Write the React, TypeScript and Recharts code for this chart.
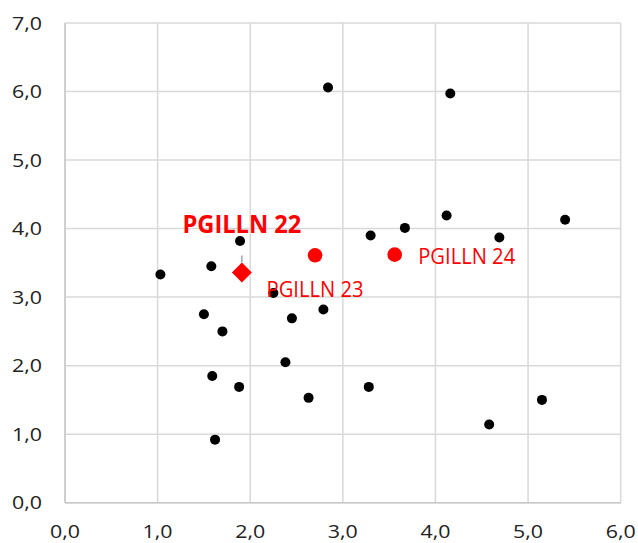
import React from 'react';
import { ScatterChart, Scatter, XAxis, YAxis, CartesianGrid } from 'recharts';

// ---- data ----
const xTicks = [0, 1, 2, 3, 4, 5, 6];
const yTicks = [0, 1, 2, 3, 4, 5, 6, 7];

const sampleX = [2.84, 4.16, 4.12, 3.67, 3.3, 4.69, 5.4, 1.89, 1.03, 1.58, 2.25, 1.5, 1.7, 2.45, 2.79, 2.38, 1.59, 1.88, 2.63, 3.28, 1.62, 4.58, 5.15];
const sampleY = [6.06, 5.97, 4.19, 4.01, 3.9, 3.87, 4.13, 3.82, 3.33, 3.45, 3.06, 2.75, 2.5, 2.69, 2.82, 2.05, 1.85, 1.69, 1.53, 1.69, 0.92, 1.14, 1.5];

const highlightNames = ['PGILLN 22', 'PGILLN 23', 'PGILLN 24'];
const highlightX = [1.91, 2.7, 3.56];
const highlightY = [3.36, 3.61, 3.62];

const samples = sampleX.map((x, i) => ({ x, y: sampleY[i] }));
const highlights = highlightNames.map((name, i) => ({ name, x: highlightX[i], y: highlightY[i] }));
const diamondData = highlights.slice(0, 1);
const circleData = highlights.slice(1);

// ---- styles ----
const FONT = '"Open Sans", "Noto Sans", sans-serif';
const RED = '#ff0000';
const TICK_COLOR = '#222222';

const labelStyle: Record<string, any> = {
  'PGILLN 22': { dx: 0, dy: -39, anchor: 'middle', size: 25, weight: 700, len: 119, leader: true },
  'PGILLN 23': { dx: 0, dy: 41.5, anchor: 'middle', size: 21, weight: 400, len: 97 },
  'PGILLN 24': { dx: 23.5, dy: 9, anchor: 'start', size: 21, weight: 400, len: 97 },
};

const fmt = (v: number) => v.toFixed(1).replace('.', ',');

const YTick = (props: any) => {
  const { x, y, payload } = props;
  return (
    <text x={x} y={y + 6.5} textAnchor="end" fontSize={18} fontFamily={FONT} fill={TICK_COLOR}
      textLength={30} lengthAdjust="spacingAndGlyphs">
      {fmt(payload.value)}
    </text>
  );
};

const XTick = (props: any) => {
  const { x, y, payload } = props;
  return (
    <text x={x} y={y + 35.5} textAnchor="middle" fontSize={18} fontFamily={FONT} fill={TICK_COLOR}
      textLength={30} lengthAdjust="spacingAndGlyphs">
      {fmt(payload.value)}
    </text>
  );
};

const PointLabel = ({ cx, cy, name }: { cx: number; cy: number; name: string }) => {
  const s = labelStyle[name];
  return (
    <g>
      {s.leader ? <line x1={cx} x2={cx} y1={cy - 10} y2={cy - 17} stroke="#a6a6a6" strokeWidth={1.5} /> : null}
      <text x={cx + s.dx} y={cy + s.dy} textAnchor={s.anchor} fontSize={s.size} fontWeight={s.weight}
        fontFamily={FONT} fill={RED} textLength={s.len} lengthAdjust="spacingAndGlyphs">
        {name}
      </text>
    </g>
  );
};

const DotShape = (props: any) => <circle cx={props.cx} cy={props.cy} r={5} fill="#000" />;

const DiamondShape = (props: any) => {
  const { cx, cy, payload } = props;
  const r = 10;
  return (
    <g>
      <polygon points={`${cx},${cy - r} ${cx + r},${cy} ${cx},${cy + r} ${cx - r},${cy}`} fill={RED} />
      <PointLabel cx={cx} cy={cy} name={payload.name} />
    </g>
  );
};

const RedCircleShape = (props: any) => {
  const { cx, cy, payload } = props;
  return (
    <g>
      <circle cx={cx} cy={cy} r={7.3} fill={RED} />
      <PointLabel cx={cx} cy={cy} name={payload.name} />
    </g>
  );
};

export default function App() {
  return (
    <div style={{ position: 'absolute', left: 0, top: 0, width: 638, height: 543, background: '#fff' }}>
      <ScatterChart width={638} height={543} margin={{ top: 23, right: 17.3, bottom: 0, left: 0 }}>
        <CartesianGrid stroke="#d9d9d9" strokeWidth={1.5} />
        <XAxis type="number" dataKey="x" domain={[0, 6]} ticks={xTicks} height={40.3}
          axisLine={{ stroke: '#c8c8c8', strokeWidth: 1.5 }} tickLine={false} tickSize={0} tickMargin={0}
          tick={<XTick />} interval={0} allowDataOverflow />
        <YAxis type="number" dataKey="y" domain={[0, 7]} ticks={yTicks} width={65}
          axisLine={{ stroke: '#c8c8c8', strokeWidth: 1.5 }} tickLine={false} tickSize={0} tickMargin={23}
          tick={<YTick />} interval={0} allowDataOverflow />
        <Scatter data={samples} shape={DotShape} isAnimationActive={false} />
        <Scatter data={diamondData} shape={DiamondShape} isAnimationActive={false} />
        <Scatter data={circleData} shape={RedCircleShape} isAnimationActive={false} />
      </ScatterChart>
    </div>
  );
}
